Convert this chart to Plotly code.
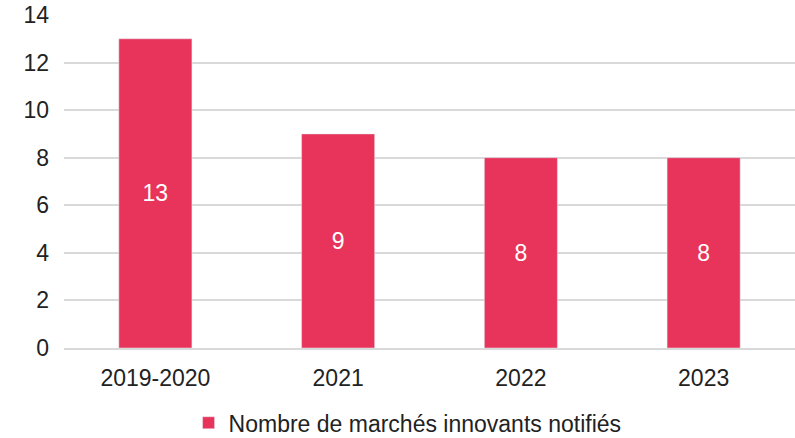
import plotly.graph_objects as go

categories = ["2019-2020", "2021", "2022", "2023"]
values = [13, 9, 8, 8]
series_name = "Nombre de marchés innovants notifiés"
y_ticks = [0, 2, 4, 6, 8, 10, 12, 14]

FONT = "Liberation Sans, Arial, sans-serif"
FS = 23
fig = go.Figure()
fig.add_trace(go.Bar(
    x=categories, y=values, name=series_name,
    marker=dict(color="#E8345A"),
    width=0.4,
    text=[str(v) for v in values],
    textposition="inside", insidetextanchor="middle",
    textfont=dict(color="white", size=FS, family=FONT),
    showlegend=True,
))
fig.update_layout(
    width=795, height=438,
    margin=dict(l=64, r=0, t=15, b=90, autoexpand=False),
    plot_bgcolor="white", paper_bgcolor="white",
    font=dict(family=FONT, size=FS, color="#222"),
    showlegend=True,
    legend=dict(orientation="h", x=0.47, xanchor="center", y=-0.16, yanchor="top",
                font=dict(size=FS, color="#222"), itemwidth=30),
    xaxis=dict(showgrid=False, showline=True, linecolor="#D9D9D9", linewidth=2,
               tickfont=dict(size=FS), ticks="", ticklabelstandoff=8, automargin=False),
    yaxis=dict(range=[0, 14], tickvals=y_ticks, showgrid=True, gridcolor="#D9D9D9",
               gridwidth=1.5, zeroline=False, ticks="", tickfont=dict(size=FS),
               ticklabelstandoff=14, automargin=False),
)
fig.write_html(
    "out.html",
    config={"displayModeBar": False},
    post_script="document.body.style.margin='0';document.body.style.overflow='hidden';",
)
